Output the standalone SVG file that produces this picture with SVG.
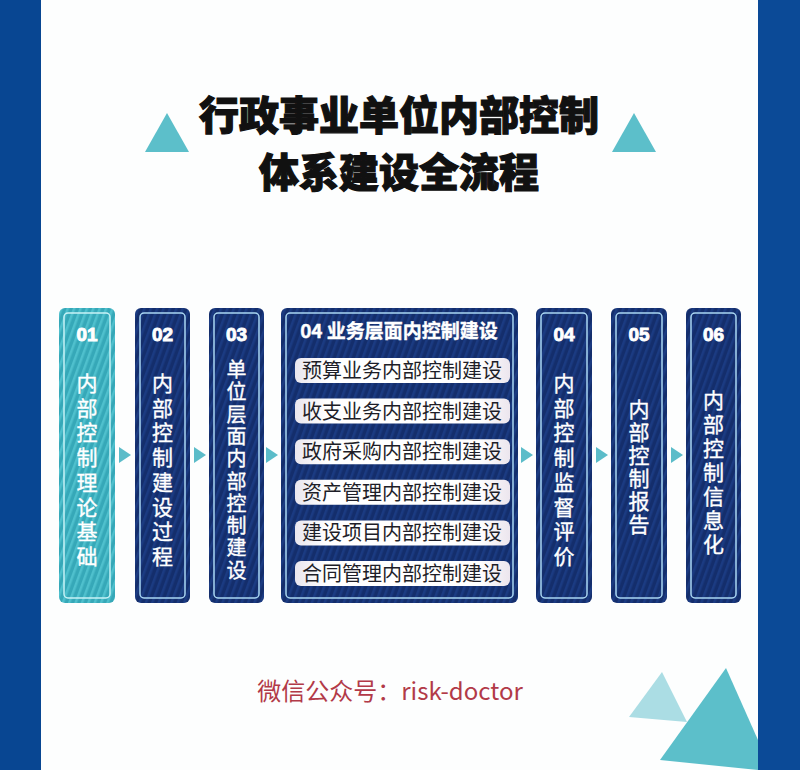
<svg xmlns="http://www.w3.org/2000/svg" width="800" height="770" viewBox="0 0 800 770">
  <style>
    .title{font-family:"Noto Sans CJK SC","Noto Sans",sans-serif;font-weight:900;font-size:40px;fill:#111;stroke:#111;stroke-width:1.2;text-anchor:middle}
    .num{font-family:"Liberation Sans",Arial,sans-serif;font-weight:bold;font-size:19px;fill:#fff;stroke:#fff;stroke-width:0.9;text-anchor:middle}
    .vt{font-family:"Noto Sans CJK SC",sans-serif;font-size:21px;fill:#fff;stroke:#fff;stroke-width:0.35;text-anchor:middle}
    .vs{font-size:20px}
    .hd{font-family:"Noto Sans CJK SC",sans-serif;font-weight:bold;font-size:19px;fill:#fff;stroke:#fff;stroke-width:0.4;text-anchor:middle}
    .row{font-family:"Noto Sans CJK SC",sans-serif;font-size:20px;fill:#1e1e28;text-anchor:middle}
    .navy{fill:url(#stripeNavy)}
    .teal{fill:url(#stripeTeal)}
    .inner{fill:none;stroke:#a9d6f2;stroke-width:1.5}
    .innerT{fill:none;stroke:#c8f2f6;stroke-width:1.5}
    .arrow{fill:#5bbcc9}
    .rowbg{fill:url(#rowGrad)}
    .tri{fill:#5cbfca}
    .foot{font-family:"Noto Sans CJK SC","Noto Sans",sans-serif;font-size:24px;fill:#b23a48;text-anchor:middle}
  </style>
  <defs>
    <pattern id="stripeNavy" patternUnits="userSpaceOnUse" width="6" height="6" patternTransform="rotate(20)">
      <rect width="6" height="6" fill="#142e6c"/>
      <rect width="2.5" height="6" fill="#1b3b82"/>
    </pattern>
    <pattern id="stripeTeal" patternUnits="userSpaceOnUse" width="6" height="6" patternTransform="rotate(20)">
      <rect width="6" height="6" fill="#36a8b8"/>
      <rect width="2.5" height="6" fill="#4fc0cd"/>
    </pattern>
    <linearGradient id="rowGrad" x1="0" y1="0" x2="1" y2="0">
      <stop offset="0" stop-color="#e9e6ee"/>
      <stop offset="0.15" stop-color="#ffffff"/>
      <stop offset="0.85" stop-color="#ffffff"/>
      <stop offset="1" stop-color="#ece6ee"/>
    </linearGradient>
  </defs>

  <rect width="800" height="770" fill="#fdfefe"/>
  <rect x="0" y="0" width="41" height="770" fill="#084692"/>
  <rect x="758" y="0" width="42" height="770" fill="#0b4a97"/>

  <g id="title">
    <polygon class="tri" points="167,113 145,152 189,152"/>
    <polygon class="tri" points="634,113 612,152 656,152"/>
    <text class="title" x="399" y="130">行政事业单位内部控制</text>
    <text class="title" x="399" y="187">体系建设全流程</text>
  </g>

  <g id="connectors">
    <polygon class="arrow" points="119,447 131,455 119,463"/>
    <polygon class="arrow" points="194,447 206,455 194,463"/>
    <polygon class="arrow" points="266,447 278,455 266,463"/>
    <polygon class="arrow" points="521,447 533,455 521,463"/>
    <polygon class="arrow" points="596,447 608,455 596,463"/>
    <polygon class="arrow" points="671,447 683,455 671,463"/>
  </g>

  <g id="n01">
    <rect class="teal" x="59" y="308" width="56" height="295" rx="6"/>
    <rect class="innerT" x="64" y="313" width="46" height="285" rx="4"/>
    <text class="num" x="87" y="341">01</text>
    <text class="vt" x="87" y="391"><tspan x="87">内</tspan><tspan x="87" dy="24.7">部</tspan><tspan x="87" dy="24.7">控</tspan><tspan x="87" dy="24.7">制</tspan><tspan x="87" dy="24.7">理</tspan><tspan x="87" dy="24.7">论</tspan><tspan x="87" dy="24.7">基</tspan><tspan x="87" dy="24.7">础</tspan></text>
  </g>

  <g id="n02">
    <rect class="navy" x="135" y="308" width="55" height="295" rx="6"/>
    <rect class="inner" x="140" y="313" width="45" height="285" rx="4"/>
    <text class="num" x="162.5" y="341">02</text>
    <text class="vt" x="162.5" y="391"><tspan x="162.5">内</tspan><tspan x="162.5" dy="24.7">部</tspan><tspan x="162.5" dy="24.7">控</tspan><tspan x="162.5" dy="24.7">制</tspan><tspan x="162.5" dy="24.7">建</tspan><tspan x="162.5" dy="24.7">设</tspan><tspan x="162.5" dy="24.7">过</tspan><tspan x="162.5" dy="24.7">程</tspan></text>
  </g>

  <g id="n03">
    <rect class="navy" x="209" y="308" width="55" height="295" rx="6"/>
    <rect class="inner" x="214" y="313" width="45" height="285" rx="4"/>
    <text class="num" x="236.5" y="341">03</text>
    <text class="vt vs" x="236.5" y="377"><tspan x="236.5">单</tspan><tspan x="236.5" dy="22.3">位</tspan><tspan x="236.5" dy="22.3">层</tspan><tspan x="236.5" dy="22.3">面</tspan><tspan x="236.5" dy="22.3">内</tspan><tspan x="236.5" dy="22.3">部</tspan><tspan x="236.5" dy="22.3">控</tspan><tspan x="236.5" dy="22.3">制</tspan><tspan x="236.5" dy="22.3">建</tspan><tspan x="236.5" dy="22.3">设</tspan></text>
  </g>

  <g id="n04biz">
    <rect class="navy" x="281" y="308" width="237" height="295" rx="6"/>
    <rect class="inner" x="286" y="313" width="227" height="285" rx="4"/>
    <text class="hd" x="399" y="338">04 业务层面内控制建设</text>
    <rect class="rowbg" x="295" y="358" width="215" height="25" rx="6"/>
    <text class="row" x="402" y="378">预算业务内部控制建设</text>
    <rect class="rowbg" x="295" y="398.6" width="215" height="25" rx="6"/>
    <text class="row" x="402" y="418.6">收支业务内部控制建设</text>
    <rect class="rowbg" x="295" y="439.2" width="215" height="25" rx="6"/>
    <text class="row" x="402" y="459.2">政府采购内部控制建设</text>
    <rect class="rowbg" x="295" y="479.8" width="215" height="25" rx="6"/>
    <text class="row" x="402" y="499.8">资产管理内部控制建设</text>
    <rect class="rowbg" x="295" y="520.4" width="215" height="25" rx="6"/>
    <text class="row" x="402" y="540.4">建设项目内部控制建设</text>
    <rect class="rowbg" x="295" y="561" width="215" height="25" rx="6"/>
    <text class="row" x="402" y="581">合同管理内部控制建设</text>
  </g>

  <g id="n04mon">
    <rect class="navy" x="536" y="308" width="56" height="295" rx="6"/>
    <rect class="inner" x="541" y="313" width="46" height="285" rx="4"/>
    <text class="num" x="564" y="341">04</text>
    <text class="vt" x="564" y="391"><tspan x="564">内</tspan><tspan x="564" dy="24.7">部</tspan><tspan x="564" dy="24.7">控</tspan><tspan x="564" dy="24.7">制</tspan><tspan x="564" dy="24.7">监</tspan><tspan x="564" dy="24.7">督</tspan><tspan x="564" dy="24.7">评</tspan><tspan x="564" dy="24.7">价</tspan></text>
  </g>

  <g id="n05">
    <rect class="navy" x="611" y="308" width="56" height="295" rx="6"/>
    <rect class="inner" x="616" y="313" width="46" height="285" rx="4"/>
    <text class="num" x="639" y="341">05</text>
    <text class="vt" x="639" y="417"><tspan x="639">内</tspan><tspan x="639" dy="23">部</tspan><tspan x="639" dy="23">控</tspan><tspan x="639" dy="23">制</tspan><tspan x="639" dy="23">报</tspan><tspan x="639" dy="23">告</tspan></text>
  </g>

  <g id="n06">
    <rect class="navy" x="686" y="308" width="55" height="295" rx="6"/>
    <rect class="inner" x="691" y="313" width="45" height="285" rx="4"/>
    <text class="num" x="713.5" y="341">06</text>
    <text class="vt" x="713.5" y="408"><tspan x="713.5">内</tspan><tspan x="713.5" dy="24">部</tspan><tspan x="713.5" dy="24">控</tspan><tspan x="713.5" dy="24">制</tspan><tspan x="713.5" dy="24">信</tspan><tspan x="713.5" dy="24">息</tspan><tspan x="713.5" dy="24">化</tspan></text>
  </g>

  <g id="footer">
    <text class="foot" x="390" y="700">微信公众号：risk-doctor</text>
    <polygon points="662,672 629,717 687,722" fill="#abdde4"/>
    <polygon class="tri" points="726,668 660,760 758,770 758,740"/>
  </g>
</svg>
